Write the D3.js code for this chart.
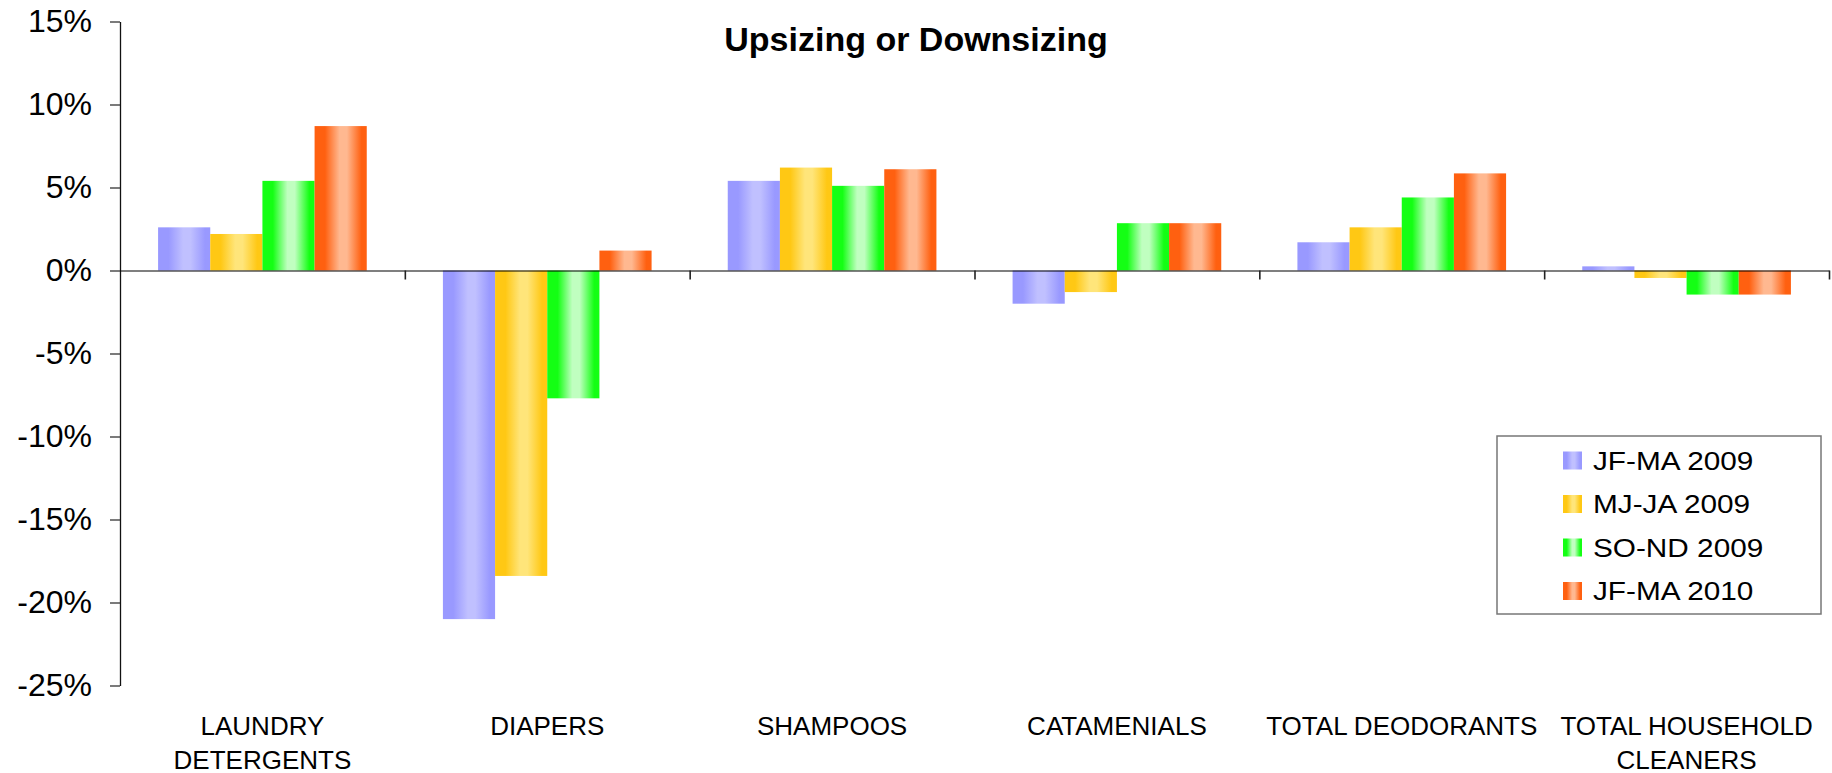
<!DOCTYPE html>
<html>
<head>
<meta charset="utf-8">
<script src="https://cdn.jsdelivr.net/npm/d3@7"></script>
<style>
    body { margin: 0; background: #fff; }
    svg { display: block; font-family: "Liberation Sans", Arial, sans-serif; }
</style>
</head>
<body>
<svg id="canvas"></svg>
<script>
// chart values
let categories = ['LAUNDRY DETERGENTS', 'DIAPERS', 'SHAMPOOS', 'CATAMENIALS', 'TOTAL DEODORANTS', 'TOTAL HOUSEHOLD CLEANERS']
let categoryLines = [['LAUNDRY', 'DETERGENTS'], ['DIAPERS'], ['SHAMPOOS'], ['CATAMENIALS'], ['TOTAL DEODORANTS'], ['TOTAL HOUSEHOLD', 'CLEANERS']]
let seriesNames = ['JF-MA 2009', 'MJ-JA 2009', 'SO-ND 2009', 'JF-MA 2010']
let jfMa2009 = [2.6, -21.0, 5.4, -2.0, 1.7, 0.25]
let mjJa2009 = [2.2, -18.4, 6.2, -1.3, 2.6, -0.45]
let soNd2009 = [5.4, -7.7, 5.1, 2.85, 4.4, -1.45]
let jfMa2010 = [8.7, 1.2, 6.1, 2.85, 5.85, -1.45]
let yTicks = [-25, -20, -15, -10, -5, 0, 5, 10, 15]
let title = 'Upsizing or Downsizing'

let seriesValues = [jfMa2009, mjJa2009, soNd2009, jfMa2010]
// gradient edge / middle colours per series
let edgeColors = ['#9999ff', '#ffc814', '#14ff14', '#ff6010']
let midColors = ['#c0c0ff', '#ffe57a', '#c0ffc0', '#ffb890']

let width = 1832
let height = 773
let plotLeft = 120
let plotRight = 1829
let plotTop = 21.5
let plotBottom = 685.5

let svg = d3.select('#canvas')
    .attr('width', width)
    .attr('height', height)

// horizontal gradients for the bars
let defs = svg.append('defs')
seriesNames.forEach((s, i) => {
    let g = defs.append('linearGradient')
        .attr('id', 'grad' + i)
        .attr('x1', 0).attr('x2', 1).attr('y1', 0).attr('y2', 0)
    g.append('stop').attr('offset', '0%').attr('stop-color', edgeColors[i])
    g.append('stop').attr('offset', '20%').attr('stop-color', edgeColors[i])
    g.append('stop').attr('offset', '48%').attr('stop-color', midColors[i])
    g.append('stop').attr('offset', '62%').attr('stop-color', midColors[i])
    g.append('stop').attr('offset', '90%').attr('stop-color', edgeColors[i])
    g.append('stop').attr('offset', '100%').attr('stop-color', edgeColors[i])
})

// scales
let yScale = d3.scaleLinear()
    .domain([-25, 15])
    .range([plotBottom, plotTop])

let x0 = d3.scaleBand()
    .domain(categories)
    .range([plotLeft, plotRight])
    .padding(0)

let x1 = d3.scaleBand()
    .domain(seriesNames)
    .range([0, x0.bandwidth()])
    .paddingInner(0)
    .paddingOuter(0.73)

let rows = categories.map((c, ci) => {
    return seriesNames.map((s, si) => ({ cat: c, series: s, si: si, value: seriesValues[si][ci] }))
})

// bars
svg.append('g')
    .selectAll('g')
    .data(rows)
    .enter()
    .append('g')
    .attr('transform', (d) => 'translate(' + x0(d[0].cat) + ',0)')
    .selectAll('rect')
    .data((d) => d)
    .enter()
    .append('rect')
    .attr('x', (d) => x1(d.series))
    .attr('width', x1.bandwidth())
    .attr('y', (d) => yScale(Math.max(0, d.value)))
    .attr('height', (d) => Math.abs(yScale(d.value) - yScale(0)))
    .attr('fill', (d) => 'url(#grad' + d.si + ')')

// y axis
let yAxis = d3.axisLeft(yScale)
    .tickValues(yTicks)
    .tickSize(10)
    .tickSizeOuter(0)
    .tickPadding(18)
    .tickFormat((d) => d + '%')

let yg = svg.append('g')
    .attr('transform', 'translate(' + plotLeft + ',0)')
    .call(yAxis)
yg.selectAll('text')
    .style('font-size', '32px')
    .attr('fill', '#000')
yg.selectAll('line').attr('stroke', '#333').attr('stroke-width', 1.3)
yg.select('.domain').attr('stroke', '#111').attr('stroke-width', 1.3)

// zero line with category separators
let sepScale = d3.scaleLinear()
    .domain([0, categories.length])
    .range([plotLeft, plotRight])

let xAxis = d3.axisBottom(sepScale)
    .tickValues(d3.range(1, categories.length + 1))
    .tickSize(9)
    .tickSizeOuter(0)
    .tickFormat('')

let xg = svg.append('g')
    .attr('transform', 'translate(0,' + yScale(0) + ')')
    .call(xAxis)
xg.select('.domain').attr('stroke', '#000').attr('stroke-opacity', 0.5).attr('stroke-width', 2.2)
xg.selectAll('line').attr('stroke', '#222').attr('stroke-width', 1.6)

// category labels
let labelAxis = d3.axisBottom(x0)
    .tickSize(0)
    .tickPadding(0)

let lg = svg.append('g')
    .attr('transform', 'translate(0,716)')
    .call(labelAxis)
lg.select('.domain').remove()
lg.selectAll('text')
    .style('font-size', '26px')
    .attr('fill', '#000')
    .attr('dy', null)
    .text(null)
    .each(function (d, i) {
        let t = d3.select(this)
        categoryLines[i].forEach((line, j) => {
            t.append('tspan')
                .attr('x', 0)
                .attr('y', 19 + j * 33.5)
                .text(line)
        })
    })

// title
svg.append('text')
    .attr('x', width / 2)
    .attr('y', 51)
    .attr('text-anchor', 'middle')
    .style('font-size', '34px')
    .style('font-weight', 'bold')
    .text(title)

// legend
let legend = svg.append('g')
    .attr('transform', 'translate(1497,436)')

legend.append('rect')
    .attr('width', 324)
    .attr('height', 178)
    .attr('fill', '#fff')
    .attr('stroke', '#777')
    .attr('stroke-width', 1.5)

let legendY = d3.scalePoint()
    .domain(seriesNames)
    .range([15.5, 146])

let item = legend.selectAll('.item')
    .data(seriesNames)
    .enter()
    .append('g')
    .attr('class', 'item')
    .attr('transform', (d) => 'translate(66,' + legendY(d) + ')')

item.append('rect')
    .attr('width', 19)
    .attr('height', 18)
    .attr('fill', (d, i) => 'url(#grad' + i + ')')

item.append('text')
    .attr('transform', 'translate(30,18) scale(1.19,1)')
    .style('font-size', '25px')
    .text((d) => d)
</script>
</body>
</html>
